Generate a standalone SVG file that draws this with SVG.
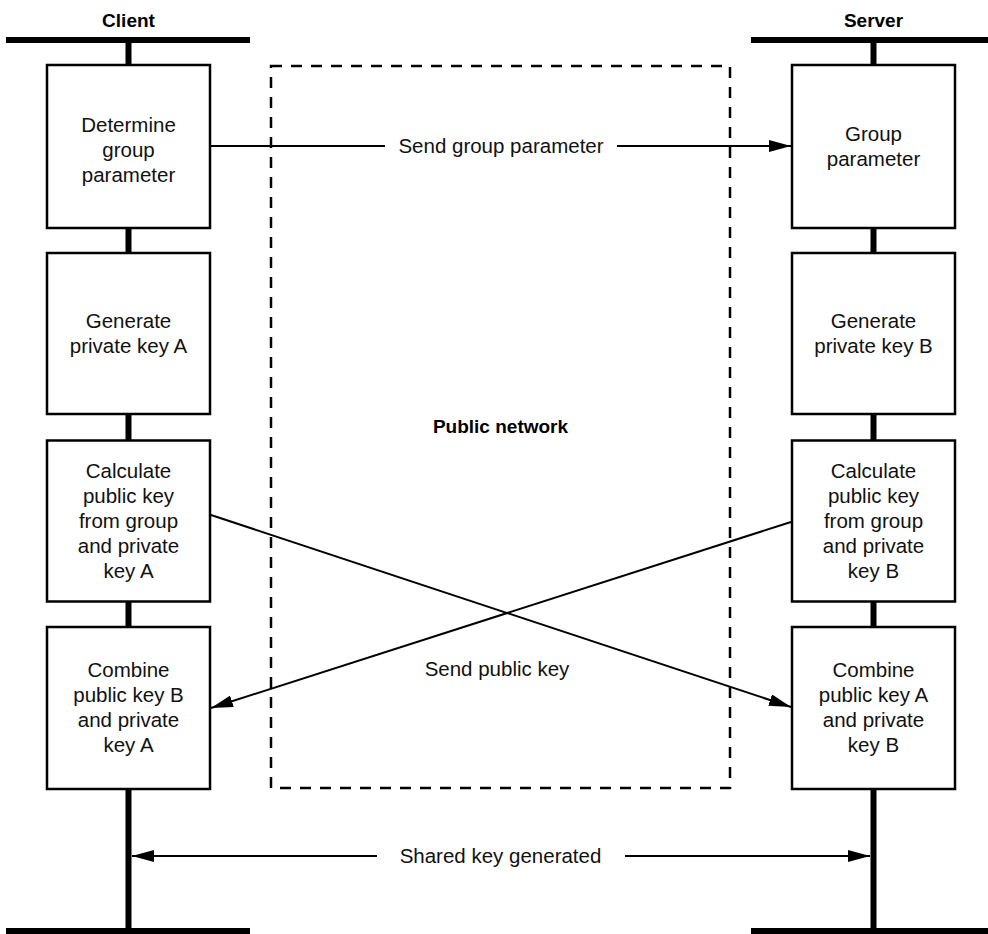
<svg xmlns="http://www.w3.org/2000/svg" width="988" height="934" viewBox="0 0 988 934">
<style>
.bar{stroke:#000;stroke-width:6;fill:none}
.box{fill:#fff;stroke:#000;stroke-width:2.5}
.t{font-family:"Liberation Sans",Arial,sans-serif;font-size:20.5px;fill:#111;text-anchor:middle}
.h{font-family:"Liberation Sans",Arial,sans-serif;font-size:19px;font-weight:bold;fill:#000;text-anchor:middle}
.ln{stroke:#000;stroke-width:2;fill:none}
.dash{stroke:#000;stroke-width:2.5;fill:none;stroke-dasharray:11 9}
</style>
<defs>
<marker id="ah" markerUnits="userSpaceOnUse" markerWidth="22" markerHeight="12" refX="22" refY="6" orient="auto">
<path d="M0,0 L22,6 L0,12 z" fill="#000"/>
</marker>
<marker id="ahs" markerUnits="userSpaceOnUse" markerWidth="22" markerHeight="12" refX="0" refY="6" orient="auto">
<path d="M22,0 L0,6 L22,12 z" fill="#000"/>
</marker>
</defs>
<rect width="988" height="934" fill="#fff"/>

<g id="network">
<rect x="271" y="66" width="459" height="722" class="dash"/>
<text class="h" x="500.5" y="433">Public network</text>
</g>

<g id="client-lifeline">
<text class="h" x="128.5" y="27">Client</text>
<line class="bar" x1="6" y1="40" x2="250" y2="40"/>
<line class="bar" x1="128.5" y1="40" x2="128.5" y2="934"/>
<line class="bar" x1="6" y1="931" x2="250" y2="931"/>
</g>
<g id="server-lifeline">
<text class="h" x="873.5" y="27">Server</text>
<line class="bar" x1="751" y1="40" x2="988" y2="40"/>
<line class="bar" x1="873.5" y1="40" x2="873.5" y2="934"/>
<line class="bar" x1="751" y1="931" x2="988" y2="931"/>
</g>

<g id="c1"><rect class="box" x="47" y="65" width="163" height="163"/>
<text class="t" x="128.5" y="132">Determine</text><text class="t" x="128.5" y="157">group</text><text class="t" x="128.5" y="182">parameter</text></g>
<g id="c2"><rect class="box" x="47" y="253" width="163" height="161"/>
<text class="t" x="128.5" y="328">Generate</text><text class="t" x="128.5" y="353">private key A</text></g>
<g id="c3"><rect class="box" x="47" y="440.5" width="163" height="161"/>
<text class="t" x="128.5" y="478">Calculate</text><text class="t" x="128.5" y="503">public key</text><text class="t" x="128.5" y="528">from group</text><text class="t" x="128.5" y="553">and private</text><text class="t" x="128.5" y="578">key A</text></g>
<g id="c4"><rect class="box" x="47" y="627" width="163" height="162"/>
<text class="t" x="128.5" y="677">Combine</text><text class="t" x="128.5" y="702">public key B</text><text class="t" x="128.5" y="727">and private</text><text class="t" x="128.5" y="752">key A</text></g>

<g id="s1"><rect class="box" x="792" y="65" width="163" height="163"/>
<text class="t" x="873.5" y="141">Group</text><text class="t" x="873.5" y="166">parameter</text></g>
<g id="s2"><rect class="box" x="792" y="253" width="163" height="161"/>
<text class="t" x="873.5" y="328">Generate</text><text class="t" x="873.5" y="353">private key B</text></g>
<g id="s3"><rect class="box" x="792" y="440.5" width="163" height="161"/>
<text class="t" x="873.5" y="478">Calculate</text><text class="t" x="873.5" y="503">public key</text><text class="t" x="873.5" y="528">from group</text><text class="t" x="873.5" y="553">and private</text><text class="t" x="873.5" y="578">key B</text></g>
<g id="s4"><rect class="box" x="792" y="627" width="163" height="162"/>
<text class="t" x="873.5" y="677">Combine</text><text class="t" x="873.5" y="702">public key A</text><text class="t" x="873.5" y="727">and private</text><text class="t" x="873.5" y="752">key B</text></g>

<g id="connectors">
<line class="ln" x1="211" y1="146" x2="385" y2="146"/>
<line class="ln" x1="617" y1="146" x2="791" y2="146" marker-end="url(#ah)"/>
<text class="t" x="501" y="153">Send group parameter</text>
<line class="ln" x1="211" y1="515" x2="791" y2="707" marker-end="url(#ah)"/>
<line class="ln" x1="791" y1="522" x2="211" y2="708" marker-end="url(#ah)"/>
<text class="t" x="497" y="676">Send public key</text>
<line class="ln" x1="132" y1="856" x2="377" y2="856" marker-start="url(#ahs)"/>
<line class="ln" x1="625" y1="856" x2="870" y2="856" marker-end="url(#ah)"/>
<text class="t" x="500.5" y="863">Shared key generated</text>
</g>
</svg>
